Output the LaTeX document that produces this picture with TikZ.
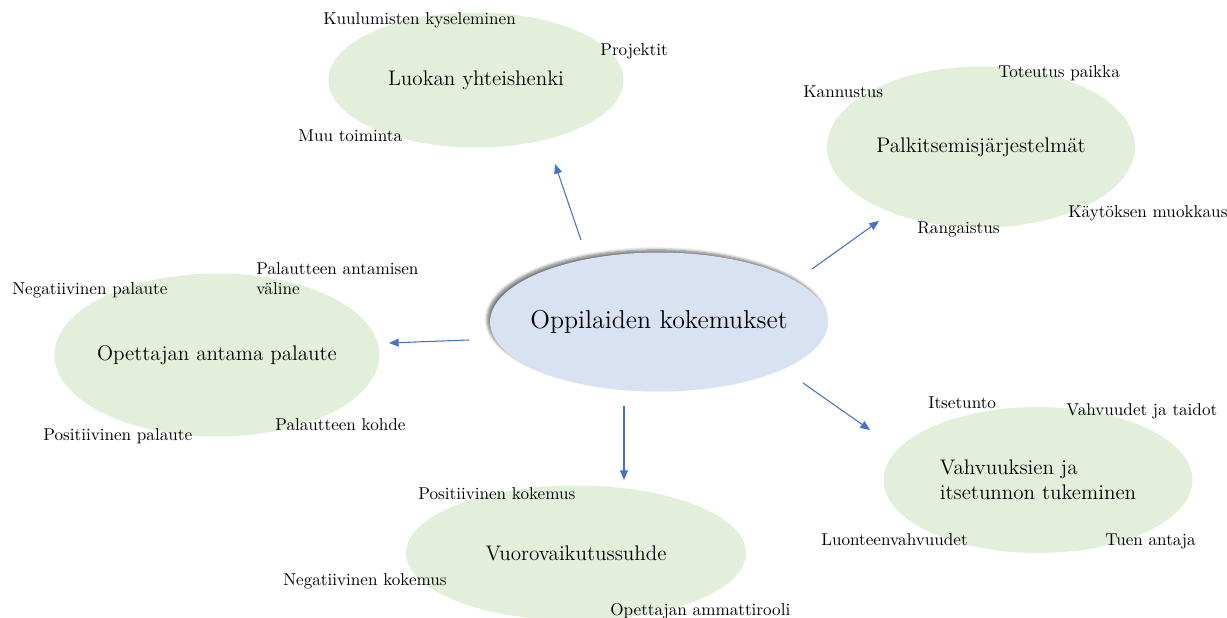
\documentclass[tikz,border=0pt]{standalone}
\usetikzlibrary{shapes.geometric,shadows.blur,arrows.meta}
\definecolor{leaf}{HTML}{E2EFDA}
\definecolor{sky}{HTML}{D9E2F3}
\definecolor{wire}{HTML}{4472C4}
\begin{document}
\begin{tikzpicture}[x=0.02cm,y=-0.02cm,
    topic/.style={ellipse,fill=leaf,inner sep=0pt,font=\fontsize{12}{14.5}\selectfont},
    hub/.style={ellipse,fill=sky,inner sep=0pt,font=\fontsize{14.7}{17}\selectfont,
        blur shadow={shadow xshift=-1.5pt,shadow yshift=1.5pt,shadow blur steps=6,shadow opacity=55}},
    tag/.style={anchor=base west,inner sep=0pt,font=\fontsize{9.75}{11.7}\selectfont},
    link/.style={draw=wire,line width=0.6pt,-{Triangle[length=5.5pt,width=4.5pt]}}]
                \useasboundingbox (0,0) rectangle (1227,618);
                % ellipses
                \node[topic,minimum width=5.90cm,minimum height=2.70cm](luokka) at (476,80){\makebox[0pt]{Luokan yhteishenki}};
                \node[topic,minimum width=6.16cm,minimum height=3.22cm](palkinto) at (981,147){\makebox[0pt]{Palkitsemisjärjestelmät}};
                \node[topic,minimum width=6.50cm,minimum height=3.26cm](palaute) at (217,355){\makebox[0pt]{Opettajan antama palaute}};
                \node[topic,minimum width=6.18cm,minimum height=2.92cm,align=left](vahvuus) at (1038,480){Vahvuuksien ja\\itsetunnon tukeminen};
                \node[topic,minimum width=6.80cm,minimum height=2.70cm](suhde) at (576,553){\makebox[0pt]{Vuorovaikutussuhde}};
                \node[hub,minimum width=6.76cm,minimum height=2.78cm](kokemus) at (659,322){\makebox[0pt]{Oppilaiden kokemukset}};
                % labels
                \node[tag](k1) at (323,25){Kuulumisten kyseleminen};
                \node[tag](k2) at (600,56){Projektit};
                \node[tag](k3) at (298,142){Muu toiminta};
                \node[tag](p1) at (803,98){Kannustus};
                \node[tag](p2) at (998,78){Toteutus paikka};
                \node[tag](p3) at (1068,218){Käytöksen muokkaus};
                \node[tag](p4) at (917,234){Rangaistus};
                \node[tag,anchor=north west,align=left](o1) at (256,262){Palautteen antamisen\\väline};
                \node[tag](o2) at (12,295){Negatiivinen palaute};
                \node[tag](o3) at (275,430){Palautteen kohde};
                \node[tag](o4) at (43,440){Positiivinen palaute};
                \node[tag](v1) at (928,408){Itsetunto};
                \node[tag](v2) at (1066,415){Vahvuudet ja taidot};
                \node[tag](v3) at (821,545){Luonteenvahvuudet};
                \node[tag](v4) at (1105,545){Tuen antaja};
                \node[tag](s1) at (418,499){Positiivinen kokemus};
                \node[tag](s2) at (283,585){Negatiivinen kokemus};
                \node[tag](s3) at (610,615){Opettajan ammattirooli};
                % arrow ends
                \coordinate(a1) at (581,240);
                \coordinate(b1) at (555,164);
                \coordinate(a2) at (812,269);
                \coordinate(b2) at (879,221);
                \coordinate(a3) at (469,340);
                \coordinate(b3) at (389,343);
                \coordinate(a4) at (624,406);
                \coordinate(b4) at (624,480);
                \coordinate(a5) at (803,383);
                \coordinate(b5) at (870,430);
                \draw[link](a1) -- (b1);
                \draw[link](a2) -- (b2);
                \draw[link](a3) -- (b3);
                \draw[link](a4) -- (b4);
                \draw[link](a5) -- (b5);
            \end{tikzpicture}
\end{document}
